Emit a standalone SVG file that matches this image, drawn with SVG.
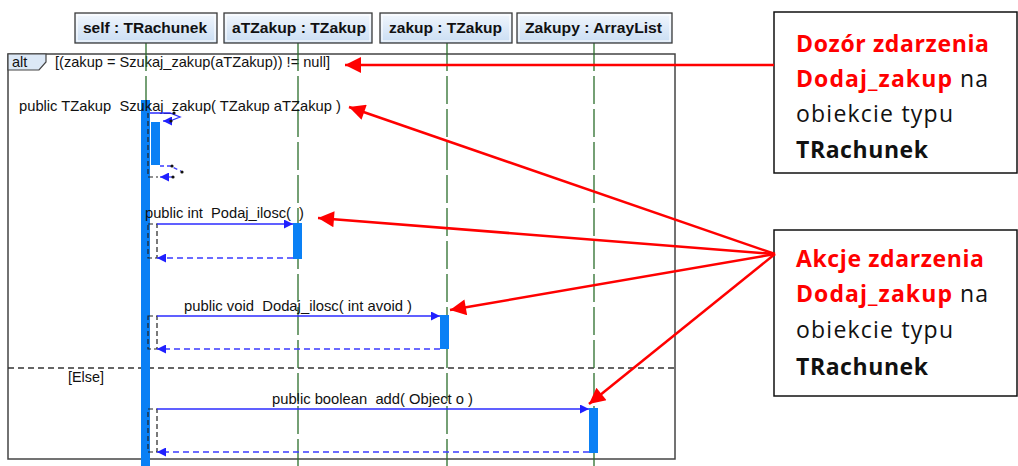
<svg xmlns="http://www.w3.org/2000/svg" width="1018" height="466" viewBox="0 0 1018 466">
<style>
.hdr{fill:url(#hg);stroke:#3a3a3a;stroke-width:1.3}
.hdrin{fill:none;stroke:#fff;stroke-width:1}
.ht{font-family:"Liberation Sans",Arial,sans-serif;font-size:14px;font-weight:bold;fill:#111}
.life{stroke:#2c6e2c;stroke-width:1.3;stroke-dasharray:28 5;fill:none}
.act{fill:#0a80f5}
.t{font-family:"Liberation Sans",Arial,sans-serif;font-size:14.5px;fill:#111;white-space:pre}
.call{stroke:#2b2bff;stroke-width:1.3;fill:none;marker-end:url(#ba)}
.ret{stroke:#3b3bff;stroke-width:1.3;stroke-dasharray:6 4;fill:none;marker-end:url(#ba)}
.br{stroke:#222;stroke-width:1.2;stroke-dasharray:5 3;fill:none}
.red{stroke:#ff0000;stroke-width:2.5;fill:none;marker-end:url(#ra)}
.box{fill:#fff;stroke:#111;stroke-width:1.5}
.bt{font-family:"Open Sans","Liberation Sans",sans-serif;font-size:23px;fill:#111}
.rb{fill:#ff0000;font-weight:bold}
.b{font-weight:bold}
</style>
<defs>
<linearGradient id="hg" x1="0" y1="0" x2="0" y2="1">
<stop offset="0" stop-color="#f2f7fd"/>
<stop offset="1" stop-color="#c9ddf3"/>
</linearGradient>
<marker id="ba" viewBox="0 0 10 10" refX="10" refY="5" markerWidth="10" markerHeight="9" markerUnits="userSpaceOnUse" orient="auto">
<path d="M0,0 L10,5 L0,10 Z" fill="#2020ff"/>
</marker>
<marker id="ra" viewBox="0 0 10 10" refX="10" refY="5" markerWidth="22" markerHeight="16" markerUnits="userSpaceOnUse" orient="auto">
<path d="M0,0 L10,5 L0,10 Z" fill="#ff0000"/>
</marker>
</defs>
<rect width="1018" height="466" fill="#fff"/>

<g id="frame">
<rect x="8" y="54" width="667" height="405" fill="none" stroke="#444" stroke-width="1.5"/>
<path d="M8,54 H46 V62 L39,70 H8 Z" fill="#dce8f6" stroke="#444" stroke-width="1.2"/>
<text class="t" x="12" y="67" font-size="13">alt</text>
<text class="t" x="55" y="67" textLength="275" lengthAdjust="spacingAndGlyphs">[(zakup = Szukaj_zakup(aTZakup)) != null]</text>
<line x1="8" y1="368" x2="675" y2="368" stroke="#333" stroke-width="1.5" stroke-dasharray="6 4"/>
<text class="t" x="68" y="382" textLength="36" lengthAdjust="spacingAndGlyphs">[Else]</text>
</g>

<g id="lifelines">
<line class="life" x1="146" y1="43" x2="146" y2="466"/>
<line class="life" x1="298" y1="43" x2="298" y2="466"/>
<line class="life" x1="447" y1="43" x2="447" y2="466"/>
<line class="life" x1="594" y1="43" x2="594" y2="466"/>
</g>

<g id="self">
<rect class="hdr" x="75" y="13" width="142" height="30"/>
<rect class="hdrin" x="77" y="15" width="138" height="26"/>
<text class="ht" x="83" y="33" textLength="124" lengthAdjust="spacingAndGlyphs">self : TRachunek</text>
<rect class="act" x="141" y="100" width="9" height="366"/>
</g>
<g id="aTZakup">
<rect class="hdr" x="224" y="13" width="148" height="30"/>
<rect class="hdrin" x="226" y="15" width="144" height="26"/>
<text class="ht" x="232" y="33" textLength="134" lengthAdjust="spacingAndGlyphs">aTZakup : TZakup</text>
<rect class="act" x="293" y="223" width="9" height="36"/>
</g>
<g id="zakup">
<rect class="hdr" x="380" y="13" width="132" height="30"/>
<rect class="hdrin" x="382" y="15" width="128" height="26"/>
<text class="ht" x="389" y="33" textLength="113" lengthAdjust="spacingAndGlyphs">zakup : TZakup</text>
<rect class="act" x="440" y="315" width="9" height="34"/>
</g>
<g id="Zakupy">
<rect class="hdr" x="517" y="13" width="155" height="30"/>
<rect class="hdrin" x="519" y="15" width="151" height="26"/>
<text class="ht" x="525" y="33" textLength="137" lengthAdjust="spacingAndGlyphs">Zakupy : ArrayList</text>
<rect class="act" x="589" y="408" width="9" height="45"/>
</g>

<g id="messages">
<text class="t" x="19" y="111" textLength="322" lengthAdjust="spacingAndGlyphs">public TZakup  Szukaj_zakup( TZakup aTZakup )</text>
<path class="br" d="M148,113 V177 H158"/>
<rect class="act" x="151" y="122" width="9" height="43"/>
<path d="M150,113 H170 L180,117 L170,121" stroke="#2b2bff" stroke-width="1.3" fill="none"/>
<path d="M170,121 H163" stroke="#2b2bff" stroke-width="1.3" fill="none" marker-end="url(#ba)"/>
<path d="M160,166 H170 L181,171" stroke="#3b3bff" stroke-width="1.3" stroke-dasharray="4 3" fill="none"/>
<path d="M174,177 H160" stroke="#3b3bff" stroke-width="1.3" fill="none" marker-end="url(#ba)"/>
<g fill="#111">
<circle cx="174" cy="113" r="1.6"/><circle cx="171" cy="121" r="1.6"/>
<circle cx="172" cy="166" r="1.6"/><circle cx="182" cy="172" r="1.6"/><circle cx="173" cy="177" r="1.6"/>
</g>

<text class="t" x="145" y="218" textLength="159" lengthAdjust="spacingAndGlyphs">public int  Podaj_ilosc(  )</text>
<rect class="br" x="148" y="224" width="9" height="34"/>
<line class="call" x1="157" y1="224" x2="293" y2="224"/>
<line class="ret" x1="293" y1="258" x2="157" y2="258"/>

<text class="t" x="184" y="311" textLength="228" lengthAdjust="spacingAndGlyphs">public void  Dodaj_ilosc( int avoid )</text>
<rect class="br" x="148" y="316" width="9" height="33"/>
<line class="call" x1="157" y1="316" x2="440" y2="316"/>
<line class="ret" x1="440" y1="349" x2="157" y2="349"/>

<text class="t" x="272" y="404" textLength="201" lengthAdjust="spacingAndGlyphs">public boolean  add( Object o )</text>
<rect class="br" x="148" y="409" width="9" height="43"/>
<line class="call" x1="157" y1="409" x2="589" y2="409"/>
<line class="ret" x1="589" y1="452" x2="157" y2="452"/>
</g>

<g id="note1">
<rect class="box" x="774" y="12" width="243" height="161"/>
<text class="bt" x="796" y="52" textLength="193"><tspan class="rb">Dozór zdarzenia</tspan></text>
<text class="bt" x="796" y="87" textLength="192"><tspan class="rb">Dodaj_zakup</tspan> na</text>
<text class="bt" x="796" y="122" textLength="157">obiekcie typu</text>
<text class="bt b" x="796" y="158" textLength="132">TRachunek</text>
</g>
<g id="note2">
<rect class="box" x="774" y="230" width="243" height="166"/>
<text class="bt" x="796" y="267" textLength="188"><tspan class="rb">Akcje zdarzenia</tspan></text>
<text class="bt" x="796" y="302" textLength="192"><tspan class="rb">Dodaj_zakup</tspan> na</text>
<text class="bt" x="796" y="338" textLength="157">obiekcie typu</text>
<text class="bt b" x="796" y="375" textLength="132">TRachunek</text>
</g>

<g id="connectors">
<line class="red" x1="774" y1="65" x2="345" y2="65"/>
<line class="red" x1="775" y1="254" x2="349" y2="107"/>
<line class="red" x1="775" y1="254" x2="318" y2="218"/>
<line class="red" x1="775" y1="254" x2="450" y2="310"/>
<line class="red" x1="775" y1="254" x2="589" y2="404"/>
</g>
</svg>
